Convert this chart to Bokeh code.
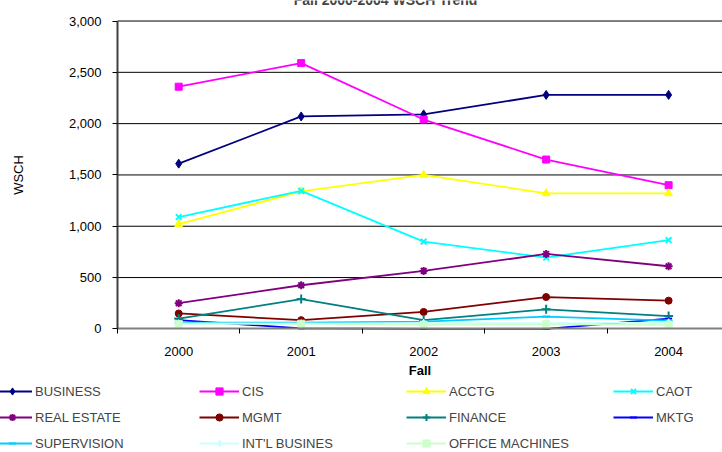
from bokeh.plotting import figure
from bokeh.models import (Range1d, FixedTicker, NumeralTickFormatter, Legend, LegendItem, Label)
from bokeh.embed import file_html
from bokeh.resources import INLINE

years = [2000, 2001, 2002, 2003, 2004]
series_names = ["BUSINESS", "CIS", "ACCTG", "CAOT", "REAL ESTATE", "MGMT",
                "FINANCE", "MKTG", "SUPERVISION", "INT'L BUSINES", "OFFICE MACHINES"]
business = [1610, 2070, 2090, 2280, 2280]
cis = [2360, 2590, 2040, 1650, 1400]
acctg = [1020, 1340, 1500, 1320, 1320]
caot = [1090, 1345, 850, 695, 865]
real_estate = [250, 425, 565, 730, 610]
mgmt = [150, 85, 165, 310, 275]
finance = [100, 290, 85, 190, 125]
mktg = [85, 5, 0, 0, 100]
supervision = [60, 60, 70, 120, 80]
intl_busines = [50, 50, 55, 55, 60]
office_machines = [50, 50, 40, 45, 40]
y_ticks = [0, 500, 1000, 1500, 2000, 2500, 3000]
title_text = "Fall 2000-2004 WSCH Trend"

values = [business, cis, acctg, caot, real_estate, mgmt, finance, mktg,
          supervision, intl_busines, office_machines]
colors = ["#000080", "#FF00FF", "#FFFF00", "#00FFFF", "#800080", "#800000",
          "#008080", "#0000FF", "#00CCFF", "#CCFFFF", "#CCFFCC"]
markers = ["diamond", "square", "triangle", "x", "asterisk", "circle",
           "cross", "dash", "dash", "diamond", "square"]
msizes = [9, 7, 8, 8, 8, 7, 9, 7, 8, 8, 7]

FONT = "Liberation Sans"
X0, X1 = 1999.5, 2004.44

p = figure(width=722, height=452, output_backend="svg", toolbar_location=None,
           x_range=Range1d(1998.545, X1), y_range=Range1d(-1205, 3200),
           min_border=0)
p.outline_line_color = None
p.background_fill_color = "white"
p.border_fill_color = "white"
p.grid.visible = False

# horizontal gridlines limited to the plot area
grid_y = y_ticks[1:]
p.segment(x0=[X0] * len(grid_y), x1=[X1] * len(grid_y), y0=grid_y, y1=grid_y,
          line_color="#000000", line_width=1)

# x axis
p.xaxis.fixed_location = 0
p.xaxis.bounds = (X0, X1)
p.xaxis.ticker = FixedTicker(ticks=years, minor_ticks=[1999.5, 2000.5, 2001.5, 2002.5, 2003.5, 2004.5])
p.xaxis.major_tick_out = 0
p.xaxis.major_tick_in = 0
p.xaxis.minor_tick_out = 5
p.xaxis.minor_tick_in = 0
p.xaxis.minor_tick_line_color = "#000000"
p.xaxis.axis_line_color = "#808080"
p.xaxis.axis_line_width = 2
p.xaxis.major_label_standoff = 13
p.xaxis.major_label_text_font = FONT
p.xaxis.major_label_text_font_size = "13px"
p.xaxis.major_label_text_color = "#000000"
p.xaxis.axis_label = "Fall"
p.xaxis.axis_label_text_font = FONT
p.xaxis.axis_label_text_font_style = "bold"
p.xaxis.axis_label_text_font_size = "13px"
p.xaxis.axis_label_standoff = 4
p.xaxis.axis_label_text_color = "#000000"

# y axis
p.yaxis.fixed_location = X0
p.yaxis.bounds = (0, 3000)
p.yaxis.ticker = FixedTicker(ticks=y_ticks)
p.yaxis.formatter = NumeralTickFormatter(format="0,0")
p.yaxis.major_tick_out = 5
p.yaxis.major_tick_in = 0
p.yaxis.minor_tick_line_color = None
p.yaxis.major_tick_line_color = "#000000"
p.yaxis.axis_line_color = "#404040"
p.yaxis.axis_line_width = 2
p.yaxis.major_label_standoff = 11
p.yaxis.major_label_text_font = FONT
p.yaxis.major_label_text_font_size = "13px"
p.yaxis.major_label_text_color = "#000000"
p.yaxis.axis_label = "WSCH"
p.yaxis.axis_label_text_font = FONT
p.yaxis.axis_label_text_font_style = "normal"
p.yaxis.axis_label_text_font_size = "13px"
p.yaxis.axis_label_standoff = 40
p.yaxis.axis_label_text_color = "#000000"

items = []
for name, vals, col, mk, ms in zip(series_names, values, colors, markers, msizes):
    lr = p.line(years, vals, line_color=col, line_width=1.8)
    sr = p.scatter(years, vals, marker=mk, size=ms, fill_color=col, line_color=col,
                   line_width=2 if mk in ("x", "asterisk", "cross", "dash") else 1)
    items.append(LegendItem(label=name, renderers=[lr, sr]))

legend = Legend(items=items, ncols=4, orientation="horizontal", location=(-8, 0),
                glyph_width=40, glyph_height=18, label_standoff=3, label_width=156,
                spacing=8, padding=0, margin=0, border_line_alpha=0,
                background_fill_alpha=0, label_text_font=FONT,
                label_text_font_size="13px", label_height=18)
p.add_layout(legend, "center")

title = Label(x=385, y=453, x_units="screen", y_units="screen",
              text=title_text, text_font=FONT,
              text_font_style="bold", text_font_size="14px",
              text_baseline="alphabetic", text_align="center")
p.add_layout(title)

open("out.html", "w").write(file_html(p, INLINE))
